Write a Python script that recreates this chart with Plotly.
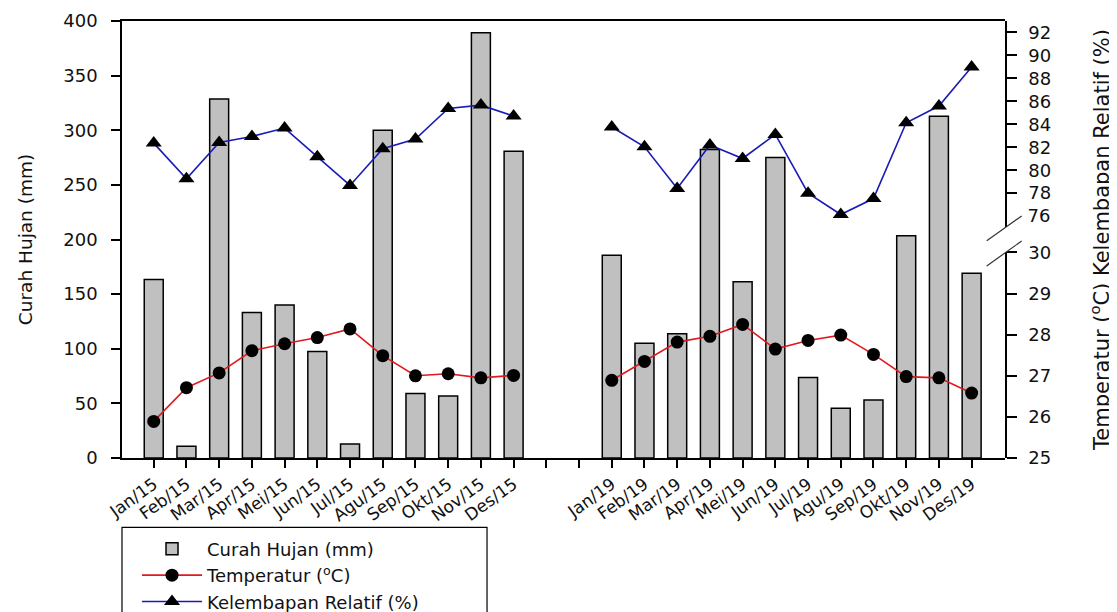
import plotly.graph_objects as go

# ---------------- data ----------------
months15 = ["Jan/15", "Feb/15", "Mar/15", "Apr/15", "Mei/15", "Jun/15",
            "Jul/15", "Agu/15", "Sep/15", "Okt/15", "Nov/15", "Des/15"]
gap_slots = [" ", "  "]
months19 = ["Jan/19", "Feb/19", "Mar/19", "Apr/19", "Mei/19", "Jun/19",
            "Jul/19", "Agu/19", "Sep/19", "Okt/19", "Nov/19", "Des/19"]

rain15 = [163.5, 10.7, 328.5, 133.2, 140.0, 97.5, 12.8, 300.0, 59.0, 56.8, 389.3, 280.8]
rain19 = [185.5, 105.1, 113.7, 282.4, 161.3, 275.0, 73.6, 45.5, 53.2, 203.5, 312.9, 169.0]

temp15 = [25.89, 26.71, 27.07, 27.61, 27.78, 27.93, 28.14, 27.49, 27.00, 27.05, 26.95, 27.01]
temp19 = [26.89, 27.35, 27.82, 27.96, 28.25, 27.65, 27.86, 27.99, 27.52, 26.98, 26.95, 26.58]

hum15 = [82.36, 79.25, 82.42, 82.94, 83.67, 81.17, 78.67, 81.87, 82.71, 85.38, 85.67, 84.72]
hum19 = [83.76, 82.04, 78.41, 82.19, 81.02, 83.12, 78.00, 76.14, 77.53, 84.13, 85.59, 88.99]

rain_ticks = [0, 50, 100, 150, 200, 250, 300, 350, 400]
temp_ticks = [25, 26, 27, 28, 29, 30]
hum_ticks = [78, 80, 82, 84, 86, 88, 90, 92]
hum_break_label = [76]

# ---------------- build ----------------
cats = months15 + gap_slots + months19
blank = [None] * len(gap_slots)
rain = rain15 + blank + rain19
temp = temp15 + blank + temp19
hum = hum15 + blank + hum19

FONT = "DejaVu Sans"
fig = go.Figure()

fig.add_trace(go.Bar(
    x=cats, y=rain, name="Curah Hujan (mm)", yaxis="y",
    width=0.58, marker=dict(color="#c0c0c0", line=dict(color="black", width=1.5)),
))
fig.add_trace(go.Scatter(
    x=cats, y=temp, name="Temperatur (<sup>o</sup>C)", yaxis="y2",
    mode="lines+markers", connectgaps=False,
    line=dict(color="#e0191f", width=1.6),
    marker=dict(symbol="circle", size=13, color="black"),
))
fig.add_trace(go.Scatter(
    x=cats, y=hum, name="Kelembapan Relatif (%)", yaxis="y3",
    mode="lines+markers", connectgaps=False,
    line=dict(color="#1a1ab8", width=1.6),
    marker=dict(symbol="triangle-up", size=14, color="black"),
))
# carrier for the "76" label of the broken axis (no tick mark drawn)
fig.add_trace(go.Scatter(
    x=[cats[0]], y=hum_break_label, yaxis="y4", mode="markers",
    marker=dict(opacity=0), showlegend=False, hoverinfo="skip",
))

tickfont = dict(family=FONT, size=18, color="#111")

fig.update_layout(
    width=1109, height=604,
    margin=dict(l=114, r=112, t=13, b=154, autoexpand=False),
    paper_bgcolor="white", plot_bgcolor="rgba(0,0,0,0)",
    font=dict(family=FONT, color="#111"),
    showlegend=True,
    xaxis=dict(
        type="category", categoryorder="array", categoryarray=cats,
        range=[-0.97, 26.02], tickmode="array", tickvals=cats,
        ticktext=months15 + ["", ""] + months19,
        showline=True, linecolor="black", linewidth=1.5, mirror=True,
        ticks="outside", ticklen=8, tickwidth=1.5, tickcolor="black",
        tickangle=-36, tickfont=dict(family=FONT, size=17, color="#111"),
        showgrid=False, zeroline=False, anchor="y",
    ),
    yaxis=dict(
        range=[0, 400], tickvals=rain_ticks,
        showline=True, linecolor="black", linewidth=1.5, mirror=False,
        ticks="outside", ticklen=9, tickwidth=1.5, tickcolor="black",
        tickfont=tickfont, ticklabelstandoff=10,
        showgrid=False, zeroline=False,
        title=dict(text="Curah Hujan (mm)", font=dict(family=FONT, size=18.5, color="#111"), standoff=26),
    ),
    yaxis2=dict(
        domain=[0, 0.4703], range=[25, 30], tickvals=temp_ticks,
        side="right", anchor="x",
        showline=True, linecolor="black", linewidth=1.5,
        ticks="outside", ticklen=10, tickwidth=1.5, tickcolor="black",
        tickfont=tickfont, ticklabelstandoff=8,
        showgrid=False, zeroline=False,
    ),
    yaxis3=dict(
        domain=[0.5286, 1], range=[75.05, 93.0], tickvals=hum_ticks,
        side="right", anchor="x",
        showline=True, linecolor="black", linewidth=1.5,
        ticks="outside", ticklen=10, tickwidth=1.5, tickcolor="black",
        tickfont=tickfont, ticklabelstandoff=8,
        showgrid=False, zeroline=False,
    ),
    yaxis4=dict(
        overlaying="y3", range=[75.05, 93.0], tickvals=hum_break_label,
        side="right", anchor="x", showline=False,
        ticks="outside", ticklen=10, tickcolor="rgba(0,0,0,0)",
        tickfont=tickfont, ticklabelstandoff=8,
        showgrid=False, zeroline=False,
    ),
    legend=dict(
        x=0.017, y=-0.166, xanchor="left", yanchor="top",
        bgcolor="rgba(0,0,0,0)", borderwidth=0,
        font=dict(family=FONT, size=18, color="#111"),
        traceorder="normal", itemwidth=60,
    ),
)

# legend frame (extends past the bottom edge as in the reference)
fig.add_shape(type="rect", xref="paper", yref="paper",
              x0=0.0, x1=0.4134, y0=-0.1586, y1=-0.45,
              line=dict(color="black", width=1.2), fillcolor="rgba(0,0,0,0)",
              layer="below")

# axis-break marks on the right axis
for y0, y1 in [(0.4973, 0.5538), (0.4394, 0.4966)]:
    fig.add_shape(type="line", xref="paper", yref="paper",
                  x0=0.9793, y0=y0, x1=1.0189, y1=y1,
                  line=dict(color="#333", width=1.2))

# right-hand combined axis title
fig.add_annotation(
    xref="paper", yref="paper", x=1.1076, y=0.4989,
    text="Temperatur (<sup>o</sup>C) Kelembapan Relatif (%)",
    textangle=-90, showarrow=False, xanchor="center", yanchor="middle",
    font=dict(family=FONT, size=21, color="#111"),
)

fig.write_html("out.html")
